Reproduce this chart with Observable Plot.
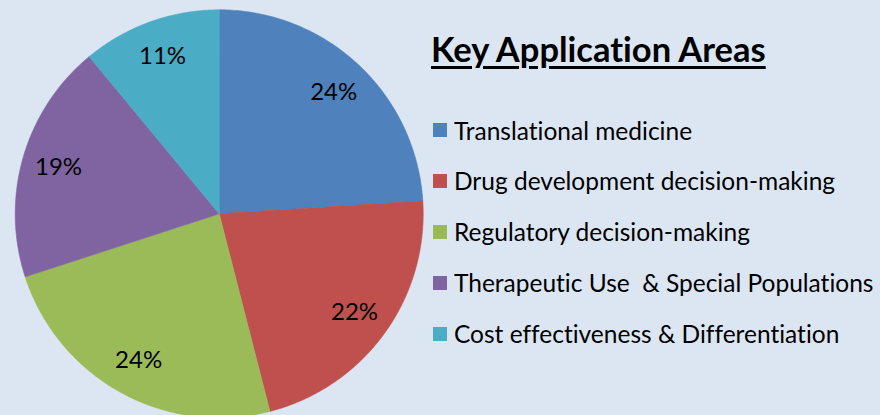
<!DOCTYPE html>
<html>
<head>
<meta charset="utf-8">
<script src="https://cdn.jsdelivr.net/npm/d3@7"></script>
<script src="https://cdn.jsdelivr.net/npm/@observablehq/plot@0.6"></script>
<style>
  html, body { margin: 0; padding: 0; background: #DCE6F2; }
  #wrap { position: relative; width: 880px; height: 415px; overflow: hidden; background: #DCE6F2; font-family: Lato, "Open Sans", sans-serif; color: #000; font-variant-ligatures: none; font-feature-settings: "liga" 0; }
  #chart { position: absolute; left: 0; top: 0; }
  #chart text { font-variant-ligatures: none; }
  #title { position: absolute; left: 431px; top: 31px; font-size: 34.5px; font-weight: bold; line-height: 36px; text-decoration: underline; text-decoration-thickness: 2.5px; text-underline-offset: 4px; white-space: pre; }
  .item { position: absolute; left: 433px; height: 30px; display: flex; align-items: center; font-size: 24.5px; white-space: pre; }
  .sw { width: 14px; height: 14px; margin-right: 7px; flex: none; }
</style>
</head>
<body>
<div id="wrap">
  <div id="chart"></div>
  <div id="title">Key Application Areas</div>
</div>
<script>
const legendTitle = "Key Application Areas";
const categories = [
  "Translational medicine",
  "Drug development decision-making",
  "Regulatory decision-making",
  "Therapeutic Use  & Special Populations",
  "Cost effectiveness & Differentiation"
];
const shares = [24, 22, 24, 19, 11];
const shareLabels = ["24%", "22%", "24%", "19%", "11%"];
const palette = ["#4F81BD", "#C0504D", "#9BBB59", "#8064A2", "#4BACC6"];

// layout
const cx = 218.7, cy = 213.3, r = 204;
const labelRadius = 0.82;

const arcs = d3.pie().sort(null).value(d => d)(shares);
const slicePoints = [];
arcs.forEach((a, i) => {
  const key = categories[i];
  slicePoints.push({key, x: 0, y: 0});
  const n = 120;
  for (let k = 0; k <= n; k++) {
    const t = a.startAngle + (a.endAngle - a.startAngle) * k / n;
    slicePoints.push({key, x: Math.sin(t), y: Math.cos(t)});
  }
  slicePoints.push({key, x: 0, y: 0});
});
const labelData = arcs.map((a, i) => {
  const m = (a.startAngle + a.endAngle) / 2;
  return {text: shareLabels[i], x: labelRadius * Math.sin(m), y: labelRadius * Math.cos(m)};
});

const chart = Plot.plot({
  width: 440,
  height: 415,
  margin: 0,
  style: {background: "transparent", fontFamily: "Lato, 'Open Sans', sans-serif", overflow: "visible"},
  x: {domain: [-1, 1], range: [cx - r, cx + r], axis: null},
  y: {domain: [-1, 1], range: [cy + r, cy - r], axis: null},
  color: {domain: categories, range: palette},
  marks: [
    Plot.line(slicePoints, {x: "x", y: "y", z: "key", fill: "key", stroke: "key", strokeWidth: 0.6, curve: "linear"}),
    Plot.text(labelData, {x: "x", y: "y", text: "text", fontSize: 24, fill: "#000", textAnchor: "middle", lineAnchor: "middle"})
  ]
});
document.getElementById("chart").appendChild(chart);

document.getElementById("title").textContent = legendTitle;
const wrap = document.getElementById("wrap");
const rowCenter0 = 130, rowStep = 50.9;
categories.forEach((c, i) => {
  const item = document.createElement("div");
  item.className = "item";
  item.style.top = (rowCenter0 + i * rowStep - 15) + "px";
  const sw = document.createElement("div");
  sw.className = "sw";
  sw.style.background = palette[i];
  const tx = document.createElement("span");
  tx.textContent = c;
  item.appendChild(sw);
  item.appendChild(tx);
  wrap.appendChild(item);
});
</script>
</body>
</html>
